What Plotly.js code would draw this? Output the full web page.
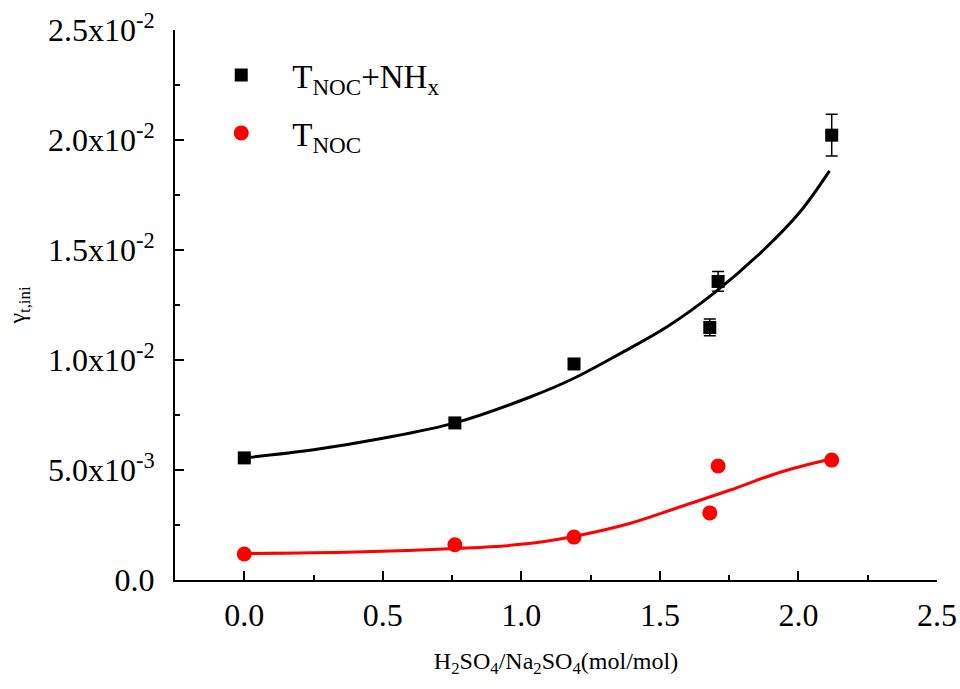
<!DOCTYPE html>
<html>
<head>
<meta charset="utf-8">
<script src="https://cdn.plot.ly/plotly-3.0.1.min.js"></script>
<style>html,body{margin:0;padding:0;background:#fff;}#chart{width:960px;height:689px;}</style>
</head>
<body>
<div id="chart"></div>
<script>
// Measured data
const ratio = [0, 0.76, 1.19, 1.68, 1.71, 2.12];
const gammaTotal = [0.00555, 0.00714, 0.00982, 0.01148, 0.01357, 0.02022];
const gammaTotalErr = [0.00012, 0.00016, 0.00022, 0.00038, 0.00045, 0.00095];
const gammaNOC = [0.00118, 0.00160, 0.00195, 0.00305, 0.00518, 0.00545];

// Fit curves
const fitTotalX = [0, 0.25, 0.5, 0.76, 1.034, 1.19, 1.358, 1.526, 1.694, 1.874, 2.006, 2.112];
const fitTotalY = [0.00555, 0.00592, 0.00644, 0.00714, 0.00833, 0.00917, 0.01030, 0.01151, 0.01303, 0.01500, 0.01674, 0.01860];
const fitNOCX = [0, 0.4, 0.76, 1.0, 1.184, 1.394, 1.574, 1.754, 1.934, 2.112];
const fitNOCY = [0.00120, 0.00127, 0.00143, 0.00162, 0.00197, 0.00258, 0.00333, 0.00409, 0.00490, 0.00549];

const yTickVals = [0, 0.005, 0.010, 0.015, 0.020, 0.025];
const yTickText = ['0.0', '5.0x10<sup>-3</sup>', '1.0x10<sup>-2</sup>', '1.5x10<sup>-2</sup>', '2.0x10<sup>-2</sup>', '2.5x10<sup>-2</sup>'];
const xTickVals = [0, 0.5, 1.0, 1.5, 2.0, 2.5];
const xTickText = ['0.0', '0.5', '1.0', '1.5', '2.0', '2.5'];

const nameTotal = 'T<sub>NOC</sub>+NH<sub>x</sub>';
const nameNOC = 'T<sub>NOC</sub>';

const FONT = 'Liberation Serif, Times New Roman, serif';

const traces = [
  {x: fitTotalX, y: fitTotalY, mode: 'lines', line: {color: '#000', width: 3, shape: 'spline', smoothing: 1}, showlegend: false, hoverinfo: 'skip'},
  {x: fitNOCX, y: fitNOCY, mode: 'lines', line: {color: '#ff0000', width: 3, shape: 'spline', smoothing: 1}, showlegend: false, hoverinfo: 'skip'},
  {x: ratio, y: gammaTotal, name: nameTotal, mode: 'markers', legendgroup: 'a',
   marker: {symbol: 'square', size: 13, color: '#000'},
   error_y: {type: 'data', array: gammaTotalErr, visible: true, color: '#000', thickness: 1.5, width: 6}},
  {x: ratio, y: gammaNOC, name: nameNOC, mode: 'markers', legendgroup: 'b',
   marker: {symbol: 'circle', size: 15, color: '#ff0000'}}
];

const layout = {
  width: 960, height: 689,
  margin: {l: 175, r: 23, t: 30, b: 109},
  paper_bgcolor: '#fff', plot_bgcolor: '#fff',
  font: {family: FONT, color: '#000', size: 32},
  showlegend: true,
  legend: {x: 0.02, y: 0.969, xanchor: 'left', yanchor: 'top', bgcolor: 'rgba(0,0,0,0)',
           font: {family: FONT, size: 33, color: '#000'}, tracegroupgap: 12, itemwidth: 92},
  xaxis: {
    range: [-0.25, 2.5], tickmode: 'array', tickvals: xTickVals, ticktext: xTickText,
    ticks: 'inside', ticklen: 9, tickwidth: 2, tickcolor: '#000',
    showline: true, linecolor: '#000', linewidth: 2, showgrid: false, zeroline: false,
    tickfont: {family: FONT, size: 32}, ticklabelstandoff: 6,
    minor: {dtick: 0.25, tick0: 0, ticks: 'inside', ticklen: 5, tickwidth: 2, tickcolor: '#000', showgrid: false},
    title: {text: 'H<sub>2</sub>SO<sub>4</sub>/Na<sub>2</sub>SO<sub>4</sub>(mol/mol)', font: {family: FONT, size: 24}, standoff: 20}
  },
  yaxis: {
    range: [0, 0.025], tickmode: 'array', tickvals: yTickVals, ticktext: yTickText,
    ticks: 'inside', ticklen: 9, tickwidth: 2, tickcolor: '#000',
    showline: true, linecolor: '#000', linewidth: 2, showgrid: false, zeroline: false,
    tickfont: {family: FONT, size: 32}, ticklabelstandoff: 12,
    minor: {dtick: 0.0025, tick0: 0, ticks: 'inside', ticklen: 5, tickwidth: 2, tickcolor: '#000', showgrid: false},
    title: {text: 'γ<sub>t,ini</sub>', font: {family: FONT, size: 24}, standoff: 16}
  }
};

Plotly.newPlot('chart', traces, layout, {displayModeBar: false, staticPlot: true});
</script>
</body>
</html>
